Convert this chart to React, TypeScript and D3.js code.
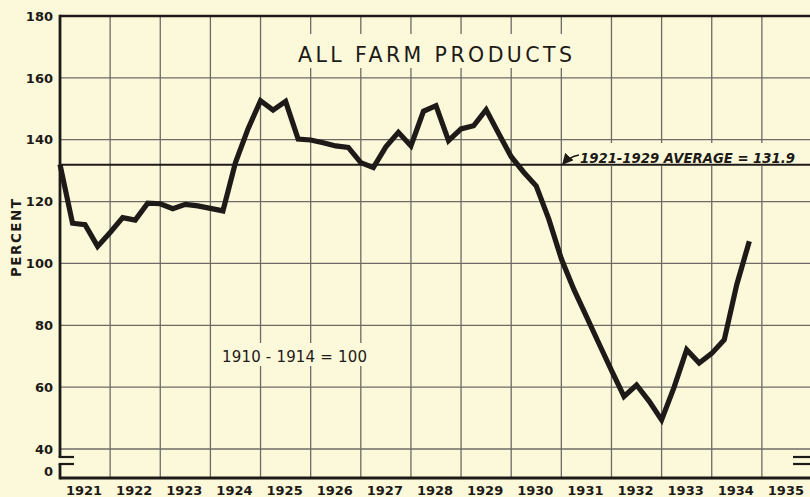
import React from "react";
import * as d3 from "d3";

// ---- data (quarterly index, 1910-1914 = 100) ----
const START_YEAR = 1921;
const yearLabels = [1921, 1922, 1923, 1924, 1925, 1926, 1927, 1928, 1929, 1930, 1931, 1932, 1933, 1934, 1935];
const gridYears = [1922, 1923, 1924, 1925, 1926, 1927, 1928, 1929, 1930, 1931, 1932, 1933, 1934, 1935];
const yTicks = [40, 60, 80, 100, 120, 140, 160, 180];
const quarterValues = [
  132, 113, 112.5, 105.5, // 1921
  110, 114.8, 114, 119.5, // 1922
  119.3, 117.7, 119.1, 118.6, // 1923
  117.8, 117, 132.6, 143.5, // 1924
  152.6, 149.6, 152.4, 140.2, // 1925
  139.9, 139, 138, 137.5, // 1926
  132.6, 131, 137.7, 142.4, // 1927
  138, 149.2, 151, 139.7, // 1928
  143.5, 144.5, 149.7, 142, // 1929
  134.5, 129.5, 125, 114.3, // 1930
  101.5, 91.6, 82.9, 74.1, // 1931
  65.4, 57, 60.7, 55.5, // 1932
  49.4, 60, 72.1, 67.8, // 1933
  70.9, 75.3, 93.2, 107.2, // 1934
];
const AVERAGE = 131.9;
const TITLE = "ALL FARM PRODUCTS";
const AVG_LABEL = "1921-1929 AVERAGE = 131.9";
const BASE_LABEL = "1910 - 1914 = 100";
const Y_TITLE = "PERCENT";

const W = 810;
const H = 497;
const BG = "#FCF9DA";
const INK = "#1d1a18";
const GRID = "#6e6a66";

export default function App() {
  const left = 60;
  const right = 812;
  const top = 16;
  const bottom = 478;
  const x = d3.scaleLinear().domain([START_YEAR, 1936]).range([left, right]);
  const y = d3.scaleLinear().domain([40, 180]).range([449, top]);

  const pts: [number, number][] = quarterValues.map((v, i) => [START_YEAR + i / 4, v]);
  const line = d3
    .line<[number, number]>()
    .x((d) => x(d[0]))
    .y((d) => y(d[1]));

  const breakTop = 457;
  const breakBot = 464;
  const fontLbl = "'DejaVu Sans', sans-serif";

  return (
    <svg
      width={W}
      height={H}
      style={{ position: "absolute", left: 0, top: 0, background: BG }}
    >
      <defs>
        <marker id="ah" viewBox="0 0 10 10" refX="8" refY="5" markerWidth="7" markerHeight="7" orient="auto">
          <path d="M0,0 L10,5 L0,10 z" fill={INK} />
        </marker>
      </defs>
      <rect x={0} y={0} width={W} height={H} fill={BG} />

      {/* horizontal gridlines */}
      {yTicks.slice(0, -1).map((t) => (
        <line key={"h" + t} x1={left} x2={right} y1={y(t)} y2={y(t)} stroke={GRID} strokeWidth={1.3} />
      ))}
      {/* vertical gridlines */}
      {gridYears.map((yr) => (
        <line key={"v" + yr} x1={x(yr)} x2={x(yr)} y1={top} y2={bottom} stroke={GRID} strokeWidth={1.3} />
      ))}

      {/* backgrounds that interrupt the grid */}
      <rect x={292} y={34} width={286} height={34} fill={BG} />
      <rect x={218} y={343} width={152} height={23} fill={BG} />
      <rect x={572} y={143} width={228} height={23} fill={BG} />

      {/* average line */}
      <line x1={left} x2={right} y1={y(AVERAGE)} y2={y(AVERAGE)} stroke={INK} strokeWidth={1.8} />

      {/* frame */}
      <line x1={left} x2={right} y1={top} y2={top} stroke={INK} strokeWidth={2.6} />
      <line x1={left} x2={right} y1={bottom} y2={bottom} stroke={INK} strokeWidth={2.8} />
      <line x1={left} x2={left} y1={top - 1.3} y2={breakTop} stroke={INK} strokeWidth={2.8} />
      <line x1={left} x2={left} y1={breakBot} y2={bottom + 1.4} stroke={INK} strokeWidth={2.8} />
      {/* axis break marks */}
      <line x1={left - 1.4} x2={left + 14} y1={breakTop} y2={breakTop} stroke={INK} strokeWidth={2.2} />
      <line x1={left - 1.4} x2={left + 14} y1={breakBot} y2={breakBot} stroke={INK} strokeWidth={2.2} />
      <line x1={793} x2={right} y1={breakTop} y2={breakTop} stroke={INK} strokeWidth={2.2} />
      <line x1={793} x2={right} y1={breakBot} y2={breakBot} stroke={INK} strokeWidth={2.2} />

      {/* data line */}
      <path
        d={line(pts) || ""}
        fill="none"
        stroke={INK}
        strokeWidth={5.2}
        strokeLinejoin="miter"
        strokeMiterlimit={3}
      />

      {/* y tick labels */}
      {yTicks.map((t) => (
        <text
          key={"yl" + t}
          x={53}
          y={y(t) + 4.7}
          textAnchor="end"
          fontFamily={fontLbl}
          fontWeight="bold"
          fontSize={13}
          fill={INK}
        >
          {t}
        </text>
      ))}
      <text x={53} y={476} textAnchor="end" fontFamily={fontLbl} fontWeight="bold" fontSize={13} fill={INK}>
        0
      </text>

      {/* y axis title */}
      <text
        transform={`translate(21,238) rotate(-90)`}
        textAnchor="middle"
        fontFamily={fontLbl}
        fontWeight="bold"
        fontSize={13.5}
        fill={INK}
        textLength={78}
        lengthAdjust="spacing"
      >
        {Y_TITLE}
      </text>

      {/* x labels */}
      {yearLabels.map((yr) => (
        <text
          key={"xl" + yr}
          x={x(yr + 0.5) - 1}
          y={495}
          textAnchor="middle"
          fontFamily={fontLbl}
          fontWeight="bold"
          fontSize={13}
          fill={INK}
        >
          {yr}
        </text>
      ))}

      {/* title */}
      <text
        x={298}
        y={61.5}
        fontFamily={fontLbl}
        fontSize={20.5}
        fill={INK}
        textLength={274}
        lengthAdjust="spacing"
      >
        {TITLE}
      </text>

      {/* base label */}
      <text
        x={222}
        y={361.5}
        fontFamily={fontLbl}
        fontSize={15}
        fill={INK}
        textLength={145}
        lengthAdjust="spacing"
      >
        {BASE_LABEL}
      </text>

      {/* average label */}
      <text
        x={580}
        y={163}
        fontFamily={fontLbl}
        fontWeight="bold"
        fontStyle="italic"
        fontSize={14}
        fill={INK}
        textLength={215}
        lengthAdjust="spacingAndGlyphs"
      >
        {AVG_LABEL}
      </text>
      <path
        d={`M579,155 Q569,157 563.5,${y(AVERAGE) - 1.5}`}
        fill="none"
        stroke={INK}
        strokeWidth={1.6}
        markerEnd="url(#ah)"
      />
    </svg>
  );
}
